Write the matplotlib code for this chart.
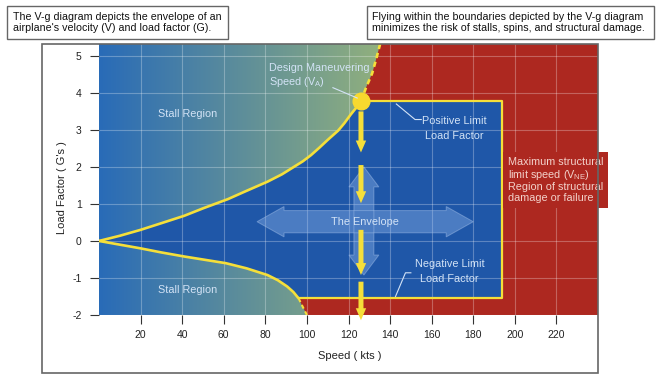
import matplotlib
matplotlib.use("Agg")
import matplotlib.pyplot as plt
import numpy as np
from matplotlib.patches import Polygon, Rectangle, PathPatch
from matplotlib.path import Path

plt.rcParams['font.family'] = ['Liberation Sans', 'DejaVu Sans']
plt.rcParams['axes.unicode_minus'] = False

# stall boundary, positive side (kts, G)
upper_v = [0, 10, 20, 30, 41, 50, 62, 70, 81, 88, 94, 98, 102, 106, 110, 115, 118, 121, 124, 126]
upper_g = [0, 0.14, 0.30, 0.48, 0.68, 0.88, 1.13, 1.33, 1.60, 1.80, 2.01, 2.15, 2.32, 2.52,
           2.73, 2.98, 3.18, 3.41, 3.62, 3.77]
# continuation above the maneuvering speed (dashed)
upper_ext_v = [126, 128.5, 131.4, 133.5, 135.2]
upper_ext_g = [3.77, 4.15, 4.53, 4.95, 5.32]
# stall boundary, negative side
lower_v = [0, 10, 20, 30, 41, 51, 61, 71, 81, 86, 90.5, 93.5, 96]
lower_g = [0, -0.10, -0.20, -0.31, -0.42, -0.51, -0.60, -0.74, -0.92, -1.06, -1.23, -1.38, -1.55]
lower_ext_v = [96, 98, 100]
lower_ext_g = [-1.55, -1.78, -2.0]

va_speed = 126
pos_limit = 3.77
neg_limit = -1.55
vne = 194

x_ticks = [20, 40, 60, 80, 100, 120, 140, 160, 180, 200, 220]
y_ticks = [-2, -1, 0, 1, 2, 3, 4, 5]

RED = '#ad2820'
ENV = '#1f57a8'
YEL = '#f5df3a'
LIGHT = '#d3e3f6'

fig = plt.figure(figsize=(6.6, 3.85), dpi=100)
W, H = 660, 385


def fig_box(x0, y0, x1, y1):
    # pixel box (top-left origin) -> figure fraction rect
    return (x0 / W, 1 - y1 / H, (x1 - x0) / W, (y1 - y0) / H)


ax = fig.add_axes(fig_box(99, 44, 598, 315))
ax.set_facecolor(RED)
for s in ax.spines.values():
    s.set_visible(False)

# gradient for the stall regions
t = np.linspace(0, 1, 256)
c0 = np.array([0.16, 0.42, 0.72])
c1 = np.array([0.57, 0.69, 0.49])
img = (c0 + (c1 - c0) * t[:, None])[None, :, :]
im = ax.imshow(img, extent=[0, 136, -2.1, 5.4], aspect='auto', zorder=1,
               interpolation='bilinear')
ax.set_xlim(0, 240)
ax.set_ylim(-2, 5.32)

top_poly = list(zip(upper_v, upper_g)) + list(zip(upper_ext_v[1:], upper_ext_g[1:])) \
    + [(136, 5.5), (0, 5.5)]
bot_poly = list(zip(lower_v, lower_g)) + list(zip(lower_ext_v[1:], lower_ext_g[1:])) \
    + [(100.5, -2.1), (0, -2.1)]
clip = Path.make_compound_path(Path(top_poly + [top_poly[0]], closed=True),
                               Path(bot_poly + [bot_poly[0]], closed=True))
clip_patch = PathPatch(clip, transform=ax.transData)
im.set_clip_path(clip_patch)

# the envelope
env = list(zip(upper_v, upper_g)) + [(vne, pos_limit), (vne, neg_limit)] \
    + list(zip(lower_v, lower_g))[::-1]
ax.add_patch(Polygon(env, closed=True, fc=ENV, ec='none', zorder=2))

# grid
for x in x_ticks:
    ax.axvline(x, color='white', alpha=0.28, lw=0.8, zorder=3)
for y in y_ticks:
    ax.axhline(y, color='white', alpha=0.28, lw=0.8, zorder=3)


# big translucent arrows
def h_arrow(x0, x1, yc, shaft, head, hl):
    return [(x0, yc), (x0 + hl, yc + head), (x0 + hl, yc + shaft), (x1 - hl, yc + shaft),
            (x1 - hl, yc + head), (x1, yc), (x1 - hl, yc - head), (x1 - hl, yc - shaft),
            (x0 + hl, yc - shaft), (x0 + hl, yc - head)]


def v_arrow(y0, y1, xc, shaft, head, hl):
    pts = h_arrow(y0, y1, xc, shaft, head, hl)
    return [(b, a) for a, b in pts][::-1]


ha_pts = h_arrow(76, 180, 0.52, 0.30, 0.41, 13)
va_pts = v_arrow(-0.92, 2.0, 127.4, 4.8, 7.2, 0.54)
arr_path = Path.make_compound_path(Path(ha_pts + [ha_pts[0]], closed=True),
                                   Path(va_pts + [va_pts[0]], closed=True))
ax.add_patch(PathPatch(arr_path, fc=(0.62, 0.76, 0.96), ec='none', alpha=0.35, zorder=4))
ax.add_patch(Polygon(ha_pts, closed=True, fill=False, ec='#9dbbe6', lw=0.7, alpha=0.5, zorder=4))
ax.add_patch(Polygon(va_pts, closed=True, fill=False, ec='#9dbbe6', lw=0.7, alpha=0.5, zorder=4))

# boundary lines
ax.plot(upper_v, upper_g, color=YEL, lw=1.9, zorder=5, solid_capstyle='round',
        solid_joinstyle='round')
ax.plot(lower_v, lower_g, color=YEL, lw=1.9, zorder=5, solid_capstyle='round',
        solid_joinstyle='round')
ax.plot(upper_ext_v, upper_ext_g, color=YEL, lw=1.9, ls=(0, (2, 1.5)), zorder=5)
ax.plot(lower_ext_v, lower_ext_g, color=YEL, lw=1.5, ls=(0, (2, 1.5)), zorder=5)
ax.plot([va_speed, vne, vne, lower_v[-1]], [pos_limit, pos_limit, neg_limit, neg_limit],
        color=YEL, lw=1.6, zorder=5)

# yellow down arrows
arrow_tails = [3.5, 2.05, 0.3, -1.1]
arrow_tips = [2.39, 1.02, -0.92, -2.14]
for a, b in zip(arrow_tails, arrow_tips):
    ax.annotate('', xy=(va_speed, b), xytext=(va_speed, a), annotation_clip=False,
                arrowprops=dict(arrowstyle='simple,head_length=0.86,head_width=0.75,tail_width=0.36',
                                fc=YEL, ec='none', shrinkA=0, shrinkB=0, mutation_scale=10),
                zorder=6)

ax.plot(va_speed, pos_limit, 'o', ms=12, color='#f8d92e', zorder=7, clip_on=False)

# labels inside the chart
ax.text(42.5, 3.42, 'Stall Region', color=LIGHT, fontsize=7.8, ha='center', va='center', zorder=8)
ax.text(42.5, -1.32, 'Stall Region', color=LIGHT, fontsize=7.8, ha='center', va='center', zorder=8)
ax.text(82, 4.45, 'Design Maneuvering\nSpeed (V$_\\mathregular{A}$)', color=LIGHT, fontsize=7.8,
        ha='left', va='center', linespacing=1.15, zorder=8)
ax.plot([112.5, 124.2], [4.14, 3.86], color=LIGHT, lw=0.8, zorder=8)
ax.text(127.8, 0.5, 'The Envelope', color=LIGHT, fontsize=7.8, ha='center', va='center', zorder=8)
ax.text(171, 3.04, 'Positive Limit\nLoad Factor', color=LIGHT, fontsize=7.8, ha='center',
        va='center', linespacing=1.55, zorder=8)
ax.plot([143, 152, 155], [3.7, 3.28, 3.28], color=LIGHT, lw=0.8, zorder=8)
ax.text(168.6, -0.82, 'Negative Limit\nLoad Factor', color=LIGHT, fontsize=7.8, ha='center',
        va='center', linespacing=1.55, zorder=8)
ax.plot([142.6, 147.4, 150], [-1.5, -0.86, -0.86], color=LIGHT, lw=0.8, zorder=8)
ax.text(196.6, 1.65, 'Maximum structural\nlimit speed (V$_\\mathregular{NE}$)\nRegion of structural\ndamage or failure',
        color='#f3d2cb', fontsize=7.8, ha='left', va='center', linespacing=1.1, zorder=8,
        clip_on=False, bbox=dict(boxstyle='square,pad=0.45', fc=RED, ec='none'))

ax.set_xticks(x_ticks)
ax.set_yticks(y_ticks)
ax.tick_params(axis='both', direction='out', length=6.5, width=0.8, color='#333333',
               labelsize=7.5, labelcolor='#222222')
ax.tick_params(axis='x', pad=4.5)
ax.tick_params(axis='y', pad=6)

fig.text(62 / W, 1 - 187.5 / H, "Load Factor ( G's )", rotation=90, ha='center', va='center',
         fontsize=8, color='#222222')
fig.text(350 / W, 1 - 356 / H, 'Speed ( kts )', ha='center', va='center', fontsize=8,
         color='#222222')

# outer frame
r = fig_box(42, 44, 598, 373)
fig.patches.append(Rectangle(r[:2], r[2], r[3], transform=fig.transFigure, fill=False,
                             ec='#666666', lw=1.2, zorder=0))

# note boxes at the top
for (x0, x1), txt in [((7.3, 227.7), 'The V-g diagram depicts the envelope of an\n'
                       "airplane's velocity (V) and load factor (G)."),
                      ((366.7, 654), 'Flying within the boundaries depicted by the V-g diagram\n'
                       'minimizes the risk of stalls, spins, and structural damage.')]:
    r = fig_box(x0, 5.7, x1, 39.3)
    fig.patches.append(Rectangle(r[:2], r[2], r[3], transform=fig.transFigure, fill=False,
                                 ec='#666666', lw=1.0))
    fig.text((x0 + 5.5) / W, 1 - 22.5 / H, txt, ha='left', va='center', fontsize=7.7,
             linespacing=1.2, color='#111111')

fig.savefig('out.png', dpi=100)
